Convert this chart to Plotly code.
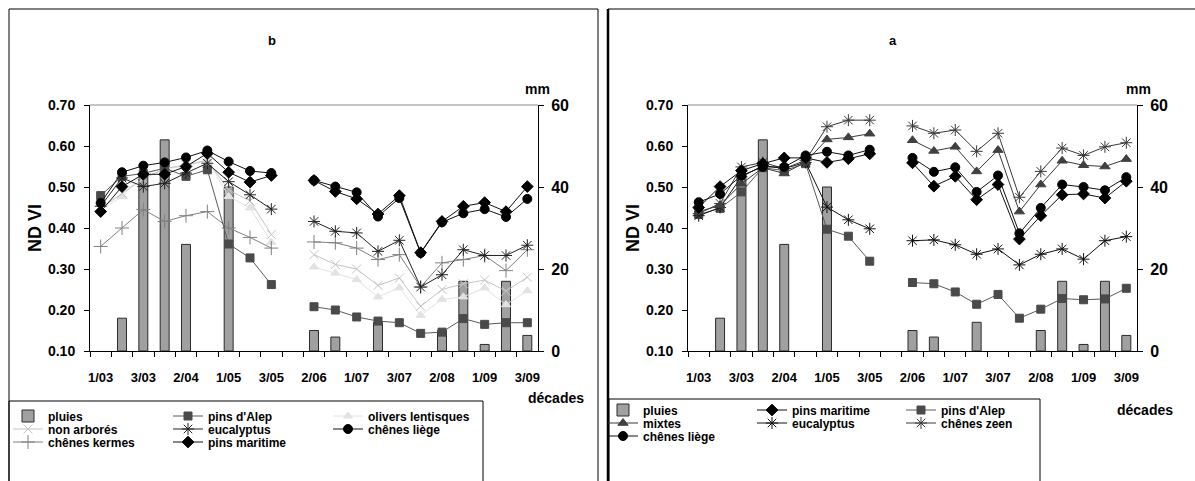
import plotly.graph_objects as go

# ---------------- data ----------------
decades = ["1/03", "2/03", "3/03", "1/04", "2/04", "3/04", "1/05", "2/05", "3/05",
           "1/06", "2/06", "3/06", "1/07", "2/07", "3/07", "1/08", "2/08", "3/08",
           "1/09", "2/09", "3/09"]
tick_labels = ["1/03", "3/03", "2/04", "1/05", "3/05", "2/06", "1/07", "3/07", "2/08", "1/09", "3/09"]

# rain (mm), same for both panels
pluies = [None, 8, 43, 51.5, 26, None, 40, None, None, None, 5, 3.4, None, 7, None, None, 5, 17, 1.6, 17, 3.8]

# panel b (NDVI)
b_chenes_liege = [0.461, 0.536, 0.552, 0.560, 0.572, 0.589, 0.562, 0.539, 0.534, None,
                  0.516, 0.501, 0.487, 0.428, 0.473, 0.339, 0.414, 0.436, 0.446, 0.427, 0.471]
b_pins_maritime = [0.440, 0.501, 0.531, 0.531, 0.550, 0.582, 0.536, 0.512, 0.528, None,
                   0.516, 0.489, 0.471, 0.434, 0.479, 0.340, 0.416, 0.453, 0.462, 0.440, 0.501]
b_eucalyptus = [0.453, 0.522, 0.501, 0.509, 0.534, 0.558, 0.513, 0.481, 0.446, None,
                0.416, 0.392, 0.388, 0.343, 0.370, 0.256, 0.286, 0.347, 0.333, 0.333, 0.358]
b_chenes_kermes = [0.355, 0.400, 0.445, 0.416, 0.430, 0.440, 0.400, 0.377, 0.351, None,
                   0.366, 0.364, 0.351, 0.323, 0.335, 0.256, 0.315, 0.323, 0.333, 0.296, 0.347]
b_non_arbores = [0.448, 0.485, 0.520, 0.545, 0.554, 0.565, 0.493, 0.466, 0.384, None,
                 0.335, 0.311, 0.300, 0.260, 0.278, 0.209, 0.250, 0.264, 0.273, 0.246, 0.280]
b_olivers = [0.443, 0.477, 0.535, 0.545, 0.550, 0.567, 0.477, 0.449, 0.365, None,
             0.305, 0.290, 0.274, 0.232, 0.254, 0.187, 0.226, 0.232, 0.254, 0.213, 0.247]
b_pins_alep = [0.479, 0.526, 0.533, 0.546, 0.526, 0.542, 0.361, 0.327, 0.262, None,
               0.208, 0.200, 0.183, 0.173, 0.169, 0.143, 0.146, 0.179, 0.165, 0.169, 0.169]

# panel a (NDVI)
a_pins_maritime = [0.450, 0.501, 0.540, 0.557, 0.571, 0.571, 0.560, 0.569, 0.581, None,
                   0.559, 0.502, 0.526, 0.469, 0.506, 0.373, 0.430, 0.481, 0.483, 0.473, 0.514]
a_chenes_liege = [0.463, 0.483, 0.528, 0.549, 0.549, 0.577, 0.586, 0.577, 0.591, None,
                  0.571, 0.537, 0.548, 0.488, 0.528, 0.387, 0.449, 0.506, 0.500, 0.492, 0.524]
a_mixtes = [0.440, 0.455, 0.508, 0.547, 0.533, 0.561, 0.616, 0.621, 0.630, None,
            0.614, 0.588, 0.598, 0.538, 0.590, 0.440, 0.506, 0.564, 0.553, 0.550, 0.568]
a_pins_alep = [0.433, 0.448, 0.488, 0.547, 0.540, 0.557, 0.397, 0.380, 0.319, None,
               0.267, 0.264, 0.244, 0.214, 0.238, 0.180, 0.202, 0.228, 0.225, 0.227, 0.253]
a_chenes_zeen = [0.435, 0.460, 0.549, 0.560, 0.545, 0.565, 0.647, 0.663, 0.663, None,
                 0.649, 0.631, 0.639, 0.587, 0.631, 0.475, 0.538, 0.595, 0.577, 0.598, 0.608]
a_eucalyptus = [0.430, 0.450, 0.525, 0.552, 0.545, 0.560, 0.451, 0.420, 0.398, None,
                0.369, 0.371, 0.359, 0.336, 0.349, 0.310, 0.336, 0.349, 0.324, 0.369, 0.379]

# ---------------- layout helpers ----------------
W, H = 1195, 481
FONT = "Liberation Sans, Arial, sans-serif"


def fx(px):
    return px / W


def fy(py):
    return 1 - py / H


y_dom = [fy(351), fy(105)]
xtext = [d if d in tick_labels else "" for d in decades]

fig = go.Figure()


def add_bar(xa, ya, leg):
    fig.add_trace(go.Bar(
        x=decades, y=pluies, name="pluies", xaxis=xa, yaxis=ya, legend=leg, legendrank=1,
        width=0.42, marker=dict(color="#a0a0a0", line=dict(color="#2a2a2a", width=1))))


def add_line(vals, name, xa, ya, leg, rank, color, symbol, size, mcolor=None, lwidth=1):
    mcolor = mcolor or color
    fig.add_trace(go.Scatter(
        x=decades, y=vals, name=name, xaxis=xa, yaxis=ya, legend=leg, legendrank=rank,
        mode="lines+markers", connectgaps=False,
        line=dict(color=color, width=lwidth),
        marker=dict(symbol=symbol, size=size, color=mcolor, line=dict(color=mcolor, width=1))))


# panel b  (legend rows: legend, legend2, legend3)
add_bar("x", "y", "legend")
add_line(b_olivers, "olivers lentisques", "x", "y2", "legend", 3, "#e2e2e2", "triangle-up", 8)
add_line(b_non_arbores, "non arborés", "x", "y2", "legend2", 1, "#c4c4c4", "x-thin-open", 9)
add_line(b_chenes_kermes, "chênes kermes", "x", "y2", "legend3", 1, "#808080", "cross-thin-open", 10)
add_line(b_pins_alep, "pins d'Alep", "x", "y2", "legend", 2, "#5a5a5a", "square", 8, "#4a4a4a")
add_line(b_eucalyptus, "eucalyptus", "x", "y2", "legend2", 2, "#222222", "asterisk-open", 10)
add_line(b_pins_maritime, "pins maritime", "x", "y2", "legend3", 2, "#111111", "diamond", 9, "#000000")
add_line(b_chenes_liege, "chênes liège", "x", "y2", "legend2", 3, "#111111", "circle", 9, "#000000")

# panel a  (legend rows: legend4, legend5, legend6)
add_bar("x2", "y3", "legend4")
add_line(a_pins_alep, "pins d'Alep", "x2", "y4", "legend4", 3, "#5a5a5a", "square", 8, "#4a4a4a")
add_line(a_eucalyptus, "eucalyptus", "x2", "y4", "legend5", 2, "#111111", "asterisk-open", 10)
add_line(a_chenes_zeen, "chênes zeen", "x2", "y4", "legend5", 3, "#3a3a3a", "asterisk-open", 10)
add_line(a_mixtes, "mixtes", "x2", "y4", "legend5", 1, "#3a3a3a", "triangle-up", 9, "#404040")
add_line(a_pins_maritime, "pins maritime", "x2", "y4", "legend4", 2, "#111111", "diamond", 9, "#000000")
add_line(a_chenes_liege, "chênes liège", "x2", "y4", "legend6", 1, "#111111", "circle", 9, "#000000")


def bfont(size):
    return dict(family=FONT, size=size, color="black", weight="bold")


def xaxis(dom, anchor):
    return dict(domain=dom, anchor=anchor, type="category", categoryorder="array",
                categoryarray=decades, tickmode="array", tickvals=decades, ticktext=xtext,
                tickson="boundaries", ticks="outside", ticklen=5, tickcolor="black",
                tickangle=0, ticklabelstandoff=14, automargin=False,
                showline=True, linecolor="black", linewidth=1, showgrid=False,
                zeroline=False, tickfont=bfont(13), range=[-0.5, 20.5], fixedrange=True)


def mm_axis(anchor):
    return dict(domain=y_dom, anchor=anchor, side="right", range=[0, 60],
                tickvals=[0, 20, 40, 60], ticks="outside", ticklen=5, tickcolor="black",
                ticklabelstandoff=4, automargin=False,
                showline=True, linecolor="black", linewidth=1, showgrid=False,
                zeroline=False, tickfont=bfont(16))


def ndvi_axis(anchor, over):
    return dict(overlaying=over, anchor=anchor, side="left", range=[0.1, 0.7],
                tick0=0.1, dtick=0.1, tickformat=".2f", ticks="outside", ticklen=5,
                ticklabelstandoff=6, automargin=False,
                tickcolor="black", showline=True, linecolor="black", linewidth=1,
                showgrid=False, zeroline=False, tickfont=bfont(14))


def legrow(x, y, ew):
    return dict(x=fx(x), y=fy(y), xanchor="left", yanchor="middle", orientation="h",
                entrywidth=ew, entrywidthmode="pixels", traceorder="normal",
                bgcolor="rgba(0,0,0,0)", borderwidth=0, font=bfont(12), itemwidth=30,
                tracegroupgap=0)


shapes = [
    # panel frames
    dict(type="rect", xref="paper", yref="paper", x0=fx(9), x1=fx(598), y0=fy(520), y1=fy(9),
         line=dict(color="black", width=1)),
    dict(type="rect", xref="paper", yref="paper", x0=fx(608), x1=fx(1230), y0=fy(520), y1=fy(9),
         line=dict(color="black", width=1)),
    dict(type="line", xref="paper", yref="paper", x0=fx(608), x1=fx(608), y0=fy(520), y1=fy(9),
         line=dict(color="black", width=2.5)),
    # legend boxes
    dict(type="rect", xref="paper", yref="paper", x0=fx(9), x1=fx(483), y0=fy(520), y1=fy(401),
         line=dict(color="black", width=1)),
    dict(type="rect", xref="paper", yref="paper", x0=fx(609), x1=fx(1040), y0=fy(520), y1=fy(399),
         line=dict(color="black", width=1)),
    # top line of plot areas
    dict(type="line", xref="x domain", yref="paper", x0=0, x1=1, y0=fy(105), y1=fy(105),
         line=dict(color="#8a8a8a", width=1)),
    dict(type="line", xref="x2 domain", yref="paper", x0=0, x1=1, y0=fy(105), y1=fy(105),
         line=dict(color="#8a8a8a", width=1)),
]


def ann(text, x, y, size, xanchor="center", angle=0):
    return dict(text=text, x=fx(x), y=fy(y), xref="paper", yref="paper", showarrow=False,
                xanchor=xanchor, yanchor="middle", textangle=angle, font=bfont(size))


annotations = [
    ann("b", 272, 40, 13),
    ann("a", 893, 40, 13),
    ann("ND VI", 35, 228, 18, angle=-90),
    ann("ND VI", 633, 228, 18, angle=-90),
    ann("mm", 537, 89, 14),
    ann("mm", 1138, 89, 14),
    ann("décades", 586, 398, 14, xanchor="right"),
    ann("décades", 1175, 410, 14, xanchor="right"),
]

fig.update_layout(
    width=W, height=H, margin=dict(l=0, r=0, t=0, b=0, autoexpand=False),
    paper_bgcolor="white", plot_bgcolor="white",
    font=dict(family=FONT, color="black"),
    barmode="overlay",
    xaxis=xaxis([fx(90), fx(538)], "y"),
    yaxis=mm_axis("x"),
    yaxis2=ndvi_axis("x", "y"),
    xaxis2=xaxis([fx(688), fx(1137)], "y3"),
    yaxis3=mm_axis("x2"),
    yaxis4=ndvi_axis("x2", "y3"),
    legend=legrow(8, 416, 115),
    legend2=legrow(8, 429, 115),
    legend3=legrow(8, 442, 115),
    legend4=legrow(603, 410, 104),
    legend5=legrow(603, 423, 104),
    legend6=legrow(603, 436, 104),
    shapes=shapes,
    annotations=annotations,
)

fig.write_html("out.html")
